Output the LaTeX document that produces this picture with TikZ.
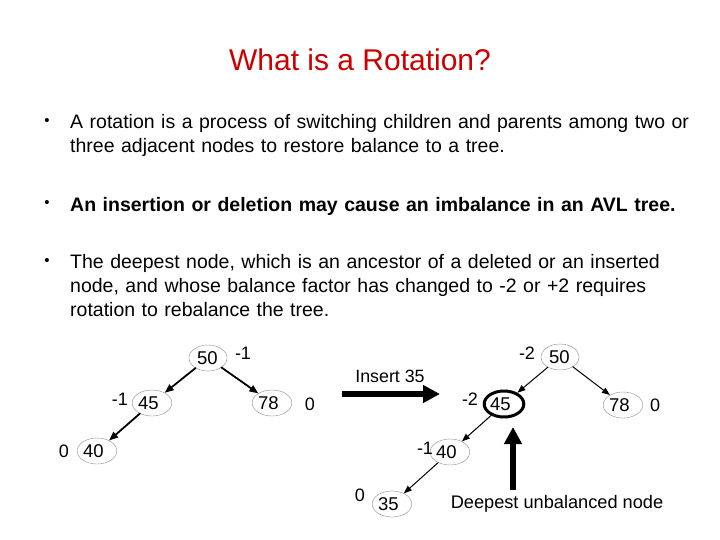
\documentclass[tikz,border=0pt]{standalone}
\usepackage{fontspec}
\setmainfont{Liberation Sans}
\usetikzlibrary{shapes.geometric,arrows.meta,positioning}

\begin{document}
\begin{tikzpicture}[x=1pt,y=-1pt,>={Triangle[length=9pt,width=7pt]},line cap=round,line join=round]
\tikzset{
  avl/.style={ellipse,draw=black!45,thin,minimum width=38pt,minimum height=26pt,inner sep=0pt,
    text width=28pt,align=left,font=\fontsize{18.5}{18.5}\selectfont},
  bal/.style={font=\fontsize{18}{18}\selectfont,inner sep=0pt},
  body/.style={anchor=north west,inner sep=0pt,text width=650pt,align=left,
    font=\fontsize{19.5}{24}\selectfont},
  dot/.style={inner sep=0pt,font=\fontsize{15}{15}\selectfont},
  oldlink/.style={->,line width=1.8pt},
  newlink/.style={->,line width=1pt,>={Triangle[length=8pt,width=6pt]}},
  fat/.style={line width=6pt,line cap=butt,-{Triangle[length=17pt,width=17pt]}},
}
\useasboundingbox (0,0) rectangle (720,540);
\node[text=red!80!black,font=\fontsize{30}{32}\selectfont] (title) at (360,60) {What is a Rotation?};
% bullets
\node[dot] (d1) at (47,122) {\textbullet};
\node[body] (p1) at (70,114) {A rotation is a process of switching children and parents among two or\\three adjacent nodes to restore balance to a tree.};
\node[dot] (d2) at (47,204) {\textbullet};
\node[body,font=\bfseries\fontsize{19.5}{24}\selectfont] (p2) at (70,197) {An insertion or deletion may cause an imbalance in an AVL tree.};
\node[dot] (d3) at (47,262) {\textbullet};
\node[body] (p3) at (70,254) {The deepest node, which is an ancestor of a deleted or an inserted\\node, and whose balance factor has changed to -2 or +2 requires\\rotation to rebalance the tree.};
% tree before
\node[avl,text width=22pt] (a50) at (208,358) {50};
\node[avl] (a45) at (152,403) {45};
\node[avl] (a78) at (272,403) {78};
\node[avl] (a40) at (97,451) {40};
\node[bal] (ba50) at (243,353) {-1};
\node[bal] (ba45) at (120,399) {-1};
\node[bal] (ba78) at (310,404) {0};
\node[bal] (ba40) at (64,451) {0};
\draw[oldlink] (a50) -- (a45);
\draw[oldlink] (a50) -- (a78);
\draw[oldlink] (a45) -- (a40);
% insert arrow
\node[font=\fontsize{17.8}{18}\selectfont] (ins) at (390,376) {Insert 35};
\coordinate (insA) at (342,394);
\coordinate (insB) at (440,394);
\draw[fat] (insA) -- (insB);
% tree after
\node[avl,text width=22pt] (b50) at (560,357) {50};
\node[avl,draw=black,line width=3pt] (b45) at (504,404) {45};
\node[avl] (b78) at (623,405) {78};
\node[avl] (b40) at (450,452) {40};
\node[avl] (b35) at (392,504) {35};
\node[bal] (bb50) at (527,353) {-2};
\node[bal] (bb45) at (470,399) {-2};
\node[bal] (bb78) at (655,405) {0};
\node[bal] (bb40) at (425,448) {-1};
\node[bal] (bb35) at (360,495) {0};
\draw[newlink] (b50) -- (b45);
\draw[newlink] (b50) -- (b78);
\draw[newlink] (b45) -- (b40);
\draw[newlink] (b40) -- (b35);
% deepest unbalanced
\coordinate (upA) at (513,490);
\coordinate (upB) at (513,427);
\draw[fat] (upA) -- (upB);
\node[font=\fontsize{18.2}{18}\selectfont] (deep) at (557,504) {Deepest unbalanced node};
\end{tikzpicture}
\end{document}
